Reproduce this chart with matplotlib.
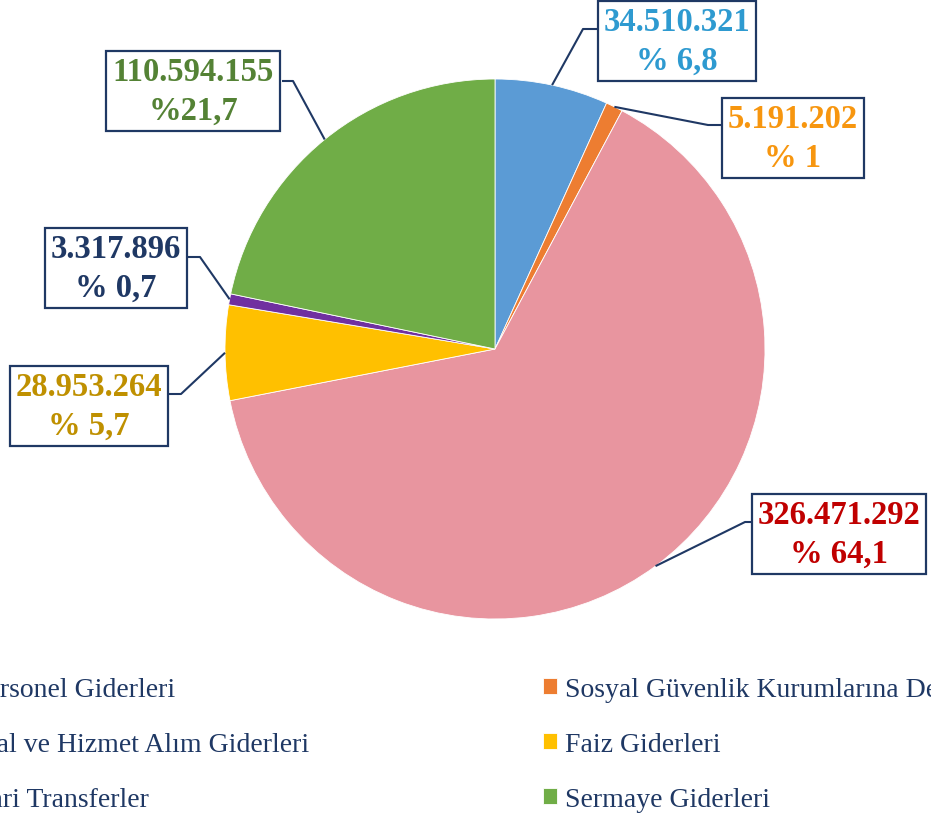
import numpy as np
import matplotlib
matplotlib.use("Agg")
import matplotlib.pyplot as plt

plt.rcParams['font.family'] = ['Liberation Serif', 'DejaVu Serif']

categories = ['Personel Giderleri',
              'Sosyal Güvenlik Kurumlarına Devlet Primi Giderleri',
              'Mal ve Hizmet Alım Giderleri',
              'Faiz Giderleri',
              'Cari Transferler',
              'Sermaye Giderleri']
values = [34510321, 5191202, 326471292, 28953264, 3317896, 110594155]
value_labels = ['34.510.321', '5.191.202', '326.471.292', '28.953.264', '3.317.896', '110.594.155']
pct_labels = ['% 6,8', '% 1', '% 64,1', '% 5,7', '% 0,7', '%21,7']

slice_colors = ['#5B9BD5', '#ED7D31', '#E8959F', '#FFC000', '#7030A0', '#70AD47']
text_colors = ['#2E9AD0', '#F7960F', '#C00000', '#BF9000', '#1F3864', '#548235']
navy = '#1F3864'

W, H = 931, 820
fig = plt.figure(figsize=(W / 100, H / 100), dpi=100)
ax = fig.add_axes([0, 0, 1, 1])

cx, cy, r = 495, H - 350, 270
wedges, _ = ax.pie(values, colors=slice_colors, startangle=90, counterclock=False,
                   center=(cx, cy), radius=r, frame=True,
                   wedgeprops=dict(linewidth=0.6, edgecolor='white'))
ax.set_xlim(0, W)
ax.set_ylim(0, H)
ax.axis('off')

# label box centres (pixels from top-left) and leader elbow / attach points
box_pos = [(677, 42), (793, 139), (839, 535), (89, 407), (116, 269), (193, 92)]
attach = [(597, 30), (722, 126), (756, 523), (169, 395), (188, 258), (282, 82)]
elbow = [(583, 30), (708, 126), (745, 523), (181, 395), (200, 258), (293, 82)]

for i, w in enumerate(wedges):
    ang = np.deg2rad((w.theta1 + w.theta2) / 2)
    ex, ey = cx + r * np.cos(ang), cy + r * np.sin(ang)
    ax.plot([ex, elbow[i][0], attach[i][0]],
            [ey, H - elbow[i][1], H - attach[i][1]],
            color=navy, lw=1.5, solid_capstyle='butt')
    ax.text(box_pos[i][0], H - box_pos[i][1], value_labels[i] + '\n' + pct_labels[i],
            ha='center', va='center', fontsize=23.5, fontweight='bold',
            color=text_colors[i], linespacing=1.3,
            bbox=dict(boxstyle='square,pad=0.18', facecolor='white',
                      edgecolor=navy, linewidth=1.6))

order = [0, 2, 4, 1, 3, 5]
fig.legend([wedges[i] for i in order], [categories[i] for i in order],
           loc='upper left', bbox_to_anchor=(-64 / W, 1 - 664 / H), ncol=2,
           frameon=False, fontsize=20, handlelength=0.5, handleheight=0.5,
           handletextpad=0.3, columnspacing=8.4, labelspacing=1.08,
           borderpad=0, labelcolor=navy)

fig.savefig('out.png', dpi=100)
